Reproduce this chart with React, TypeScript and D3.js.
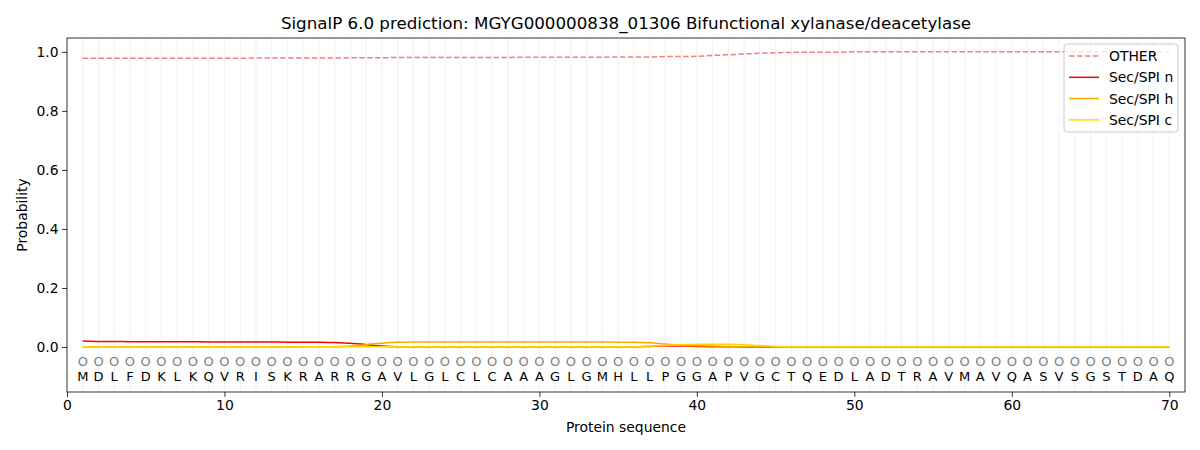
import React, { useEffect, useRef } from 'react';
import * as d3 from 'd3';

const sequence = 'MDLFDKLKQVRISKRARRGAVLGLCLCAAAGLGMHLLPGGAPVGCTQEDLADTRAVMAVQASVSGSTDAQ'.split('');

const positions = sequence.map((_, i) => i + 1);

const other = [
  0.978, 0.978, 0.978, 0.978, 0.978, 0.978, 0.978, 0.978, 0.978, 0.978,
  0.978, 0.979, 0.979, 0.979, 0.979, 0.979, 0.979, 0.980, 0.980, 0.980,
  0.981, 0.981, 0.981, 0.981, 0.981, 0.981, 0.981, 0.981, 0.982, 0.982,
  0.982, 0.982, 0.982, 0.982, 0.983, 0.983, 0.983, 0.984, 0.984, 0.985,
  0.988, 0.990, 0.993, 0.995, 0.997, 0.998, 0.999, 0.999, 0.999, 1.0,
  1.0, 1.0, 1.0, 1.0, 1.0, 1.0, 1.0, 1.0, 1.0, 1.0,
  1.0, 1.0, 1.0, 1.0, 1.0, 1.0, 1.0, 1.0, 1.0, 1.0,
];

const secN = [
  0.020, 0.019, 0.019, 0.018, 0.018, 0.018, 0.018, 0.018, 0.017, 0.017,
  0.017, 0.017, 0.017, 0.016, 0.016, 0.016, 0.015, 0.013, 0.008, 0.003,
  0.001, 0.001, 0.001, 0.001, 0.001, 0.001, 0.001, 0.001, 0.001, 0.001,
  0.001, 0.001, 0.001, 0.001, 0.001, 0.001, 0.002, 0.003, 0.003, 0.002,
  0.001, 0.001, 0.0, 0.0, 0.0, 0.0, 0.0, 0.0, 0.0, 0.0,
  0.0, 0.0, 0.0, 0.0, 0.0, 0.0, 0.0, 0.0, 0.0, 0.0,
  0.0, 0.0, 0.0, 0.0, 0.0, 0.0, 0.0, 0.0, 0.0, 0.0,
];

const secH = [
  0.0, 0.0, 0.0, 0.0, 0.0, 0.0, 0.0, 0.0, 0.0, 0.0,
  0.0, 0.0, 0.0, 0.0, 0.0, 0.001, 0.001, 0.003, 0.008, 0.013,
  0.016, 0.017, 0.017, 0.017, 0.017, 0.017, 0.017, 0.017, 0.017, 0.017,
  0.017, 0.017, 0.017, 0.017, 0.016, 0.016, 0.014, 0.010, 0.006, 0.004,
  0.003, 0.002, 0.001, 0.001, 0.0, 0.0, 0.0, 0.0, 0.0, 0.0,
  0.0, 0.0, 0.0, 0.0, 0.0, 0.0, 0.0, 0.0, 0.0, 0.0,
  0.0, 0.0, 0.0, 0.0, 0.0, 0.0, 0.0, 0.0, 0.0, 0.0,
];

const secC = [
  0.001, 0.001, 0.001, 0.001, 0.001, 0.001, 0.001, 0.001, 0.001, 0.001,
  0.001, 0.001, 0.001, 0.001, 0.001, 0.001, 0.001, 0.001, 0.001, 0.001,
  0.001, 0.001, 0.001, 0.001, 0.001, 0.001, 0.001, 0.001, 0.001, 0.001,
  0.001, 0.001, 0.001, 0.001, 0.001, 0.001, 0.002, 0.005, 0.008, 0.009,
  0.009, 0.009, 0.008, 0.005, 0.002, 0.001, 0.001, 0.001, 0.001, 0.001,
  0.001, 0.001, 0.001, 0.001, 0.001, 0.001, 0.001, 0.001, 0.001, 0.001,
  0.001, 0.001, 0.001, 0.001, 0.001, 0.001, 0.001, 0.001, 0.001, 0.001,
];

const xTicks = [0, 10, 20, 30, 40, 50, 60, 70];
const yTicks = [0.0, 0.2, 0.4, 0.6, 0.8, 1.0];

const series = [
  { name: 'OTHER', values: other, color: '#f08080', dash: '5.5,2.4' },
  { name: 'Sec/SPI n', values: secN, color: '#ff0000', dash: null },
  { name: 'Sec/SPI h', values: secH, color: '#ffa500', dash: null },
  { name: 'Sec/SPI c', values: secC, color: '#ffd700', dash: null },
];

const title = 'SignalP 6.0 prediction: MGYG000000838_01306 Bifunctional xylanase/deacetylase';

const App: React.FC = () => {
  const ref = useRef<SVGSVGElement | null>(null);

  useEffect(() => {
    if (!ref.current) return;
    const width = 1200;
    const height = 450;
    const m = { left: 67, right: 15, top: 38, bottom: 58 };
    const font = 'DejaVu Sans, sans-serif';

    const svg = d3.select(ref.current);
    svg.selectAll('*').remove();
    svg.attr('width', width).attr('height', height);
    svg.append('rect').attr('width', width).attr('height', height).attr('fill', '#fff');

    const x = d3.scaleLinear().domain([0, 71]).range([m.left, width - m.right]);
    const y = d3.scaleLinear().domain([-0.1525, 1.047]).range([height - m.bottom, m.top]);

    // vertical grid at each residue
    svg.append('g')
      .selectAll('line')
      .data(positions)
      .enter()
      .append('line')
      .attr('x1', d => x(d))
      .attr('x2', d => x(d))
      .attr('y1', m.top)
      .attr('y2', height - m.bottom)
      .attr('stroke', '#b0b0b0')
      .attr('stroke-opacity', 0.18)
      .attr('stroke-width', 1);

    const line = d3.line<number>()
      .x((_, i) => x(positions[i]))
      .y(d => y(d))
      .curve(d3.curveMonotoneX);

    series.forEach(s => {
      const p = svg.append('path')
        .attr('d', line(s.values))
        .attr('fill', 'none')
        .attr('stroke', s.color)
        .attr('stroke-width', 1.5);
      if (s.dash) p.attr('stroke-dasharray', s.dash);
    });

    // residue labels
    const lab = svg.append('g').attr('font-family', font).attr('text-anchor', 'middle');
    lab.selectAll('text.o')
      .data(positions)
      .enter()
      .append('text')
      .attr('class', 'o')
      .attr('x', d => x(d))
      .attr('y', y(-0.05))
      .attr('dy', '0.36em')
      .attr('font-size', 13)
      .attr('fill', '#808080')
      .text('O');
    lab.selectAll('text.aa')
      .data(sequence)
      .enter()
      .append('text')
      .attr('class', 'aa')
      .attr('x', (_, i) => x(positions[i]))
      .attr('y', y(-0.1))
      .attr('dy', '0.36em')
      .attr('font-size', 13)
      .attr('fill', '#000')
      .text(d => d);

    // axes
    const xAxis = svg.append('g')
      .attr('transform', `translate(0,${height - m.bottom})`)
      .call(d3.axisBottom(x).tickValues(xTicks).tickSize(4.9).tickPadding(3.5).tickFormat(d3.format('d')));
    const yAxis = svg.append('g')
      .attr('transform', `translate(${m.left},0)`)
      .call(d3.axisLeft(y).tickValues(yTicks).tickSize(4.9).tickPadding(3.5).tickFormat(d3.format('.1f')));
    [xAxis, yAxis].forEach(a => {
      a.select('.domain').remove();
      a.selectAll('text').attr('font-family', font).attr('font-size', 13.9).attr('fill', '#000');
      a.selectAll('line').attr('stroke', '#000').attr('stroke-width', 0.8);
    });

    svg.append('rect')
      .attr('x', m.left)
      .attr('y', m.top)
      .attr('width', width - m.left - m.right)
      .attr('height', height - m.top - m.bottom)
      .attr('fill', 'none')
      .attr('stroke', '#000')
      .attr('stroke-width', 0.8);

    svg.append('text')
      .attr('x', (m.left + width - m.right) / 2)
      .attr('y', 29)
      .attr('text-anchor', 'middle')
      .attr('font-family', font)
      .attr('font-size', 16.7)
      .text(title);

    svg.append('text')
      .attr('x', (m.left + width - m.right) / 2)
      .attr('y', 432)
      .attr('text-anchor', 'middle')
      .attr('font-family', font)
      .attr('font-size', 13.9)
      .text('Protein sequence');

    svg.append('text')
      .attr('transform', `translate(27,${(m.top + height - m.bottom) / 2}) rotate(-90)`)
      .attr('text-anchor', 'middle')
      .attr('font-family', font)
      .attr('font-size', 13.9)
      .text('Probability');

    // legend
    const legend = svg.append('g').attr('transform', 'translate(1064,44)');
    legend.append('rect')
      .attr('width', 114)
      .attr('height', 88)
      .attr('rx', 3)
      .attr('fill', '#fff')
      .attr('fill-opacity', 0.8)
      .attr('stroke', '#ccc')
      .attr('stroke-width', 1);
    series.forEach((s, i) => {
      const row = legend.append('g').attr('transform', `translate(0,${12 + i * 21.3})`);
      const l = row.append('line')
        .attr('x1', 5)
        .attr('x2', 35)
        .attr('stroke', s.color)
        .attr('stroke-width', 1.5);
      if (s.dash) l.attr('stroke-dasharray', s.dash);
      row.append('text')
        .attr('x', 45)
        .attr('dy', '0.36em')
        .attr('font-family', font)
        .attr('font-size', 13.9)
        .text(s.name);
    });
  }, []);

  return <svg ref={ref} style={{ display: 'block', position: 'absolute', left: 0, top: 0 }} />;
};

export default App;
